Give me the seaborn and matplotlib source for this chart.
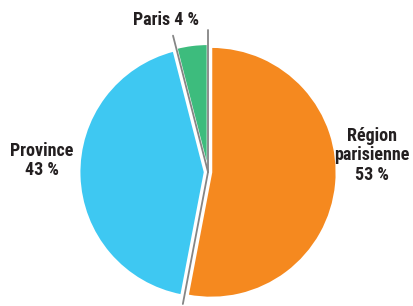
import numpy as np
import matplotlib
matplotlib.use("Agg")
import matplotlib.pyplot as plt
import seaborn as sns

# Data
labels = ["Région\nparisienne\n53 %", "Province\n43 %", "Paris 4 %"]
shares = [53, 43, 4]
colors = ["#F5891F", "#3EC8F2", "#3DBC7D"]
explode = [0.025, 0.025, 0.02]

sns.set_style("white")
plt.rcParams["font.family"] = ["Roboto Condensed", "DejaVu Sans"]

fig = plt.figure(figsize=(4.14, 3.06), dpi=100)
ax = fig.add_axes([0, 0, 1, 1])

wedges, _ = ax.pie(shares, colors=colors, startangle=90, counterclock=False,
                   explode=explode, radius=0.98,
                   wedgeprops={"edgecolor": "white", "linewidth": 1.5})

# grey separators along slice boundaries
bounds = np.cumsum([0] + shares[:-1])
for b, r in zip(bounds, [1.11, 1.05, 1.1]):
    ang = np.deg2rad(90 - b / sum(shares) * 360)
    ax.plot([0, r * np.cos(ang)], [0, r * np.sin(ang)], color="#858585", lw=1.3, zorder=5)

text_pos = [(1.28, 0.13), (-1.30, 0.09), (-0.33, 1.19)]
for lab, (x, y) in zip(labels, text_pos):
    ax.text(x, y, lab, ha="center", va="center", fontsize=13, fontweight="bold",
            color="#231F20", linespacing=1.1)

ax.set_xlim(-1.625, 1.609)
ax.set_ylim(-1.047, 1.344)
ax.set_aspect("equal")
ax.axis("off")

fig.savefig("out.png", dpi=100)
